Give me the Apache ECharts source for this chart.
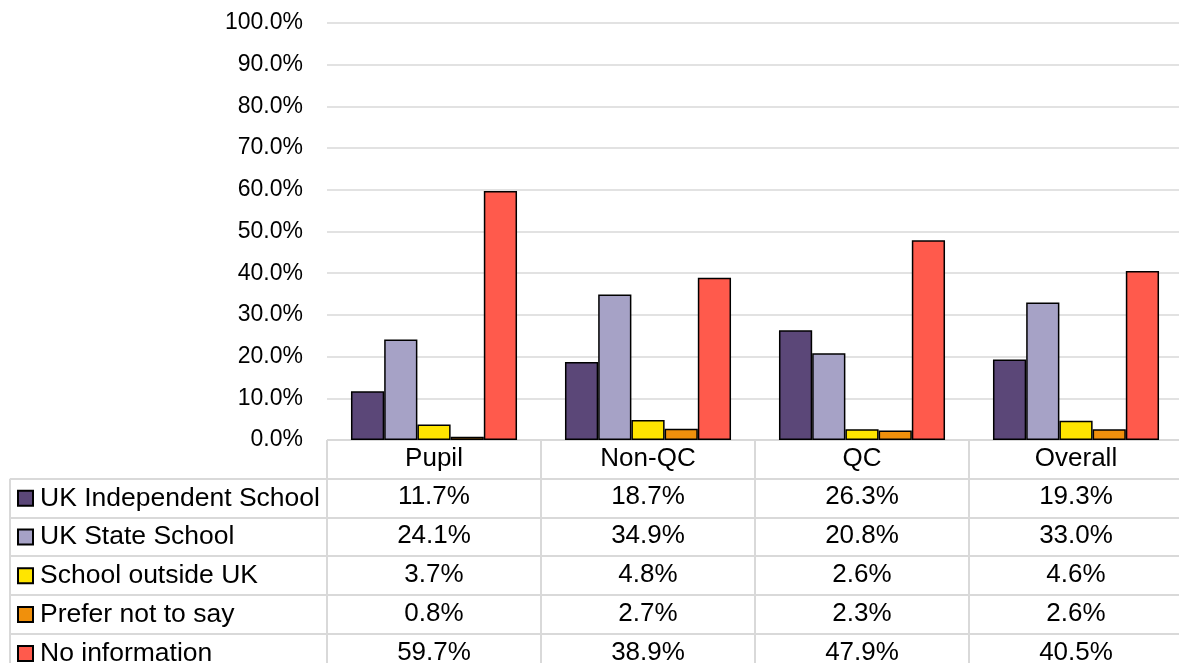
<!DOCTYPE html>
<html><head><meta charset="utf-8">
<script src="https://cdn.jsdelivr.net/npm/echarts@6/dist/echarts.min.js"></script>
<style>html,body{margin:0;padding:0;background:#fff}#c{width:1179px;height:663px}</style>
</head><body><div id="c"></div>
<script>
const categories = ['Pupil', 'Non-QC', 'QC', 'Overall'];
const seriesNames = ['UK Independent School', 'UK State School', 'School outside UK', 'Prefer not to say', 'No information'];
const ukIndependent = [11.7, 18.7, 26.3, 19.3];
const ukState = [24.1, 34.9, 20.8, 33.0];
const outsideUK = [3.7, 4.8, 2.6, 4.6];
const preferNot = [0.8, 2.7, 2.3, 2.6];
const noInfo = [59.7, 38.9, 47.9, 40.5];
const yTicks = {min: 0, max: 100, interval: 10};

const values = [ukIndependent, ukState, outsideUK, preferNot, noInfo];
const colors = ['#5B4778', '#A6A2C6', '#FFE500', '#F0900C', '#FF5A4C'];
const FONT = '"Liberation Sans", Arial, sans-serif';
const gridLeft = 327, gridTop = 23, axisY = 440, catW = 214, rowH = 38.8;
const lineColor = '#d9d9d9';

const chart = echarts.init(document.getElementById('c'));
const graphics = [];
const gx = (i) => gridLeft + i * catW;
for (let i = 0; i <= categories.length; i++) {
  graphics.push({type: 'line', shape: {x1: gx(i), y1: axisY, x2: gx(i), y2: 663}, style: {stroke: lineColor, lineWidth: 2}, silent: true});
}
graphics.push({type: 'line', shape: {x1: 10, y1: axisY + rowH, x2: 10, y2: 663}, style: {stroke: lineColor, lineWidth: 2}, silent: true});
graphics.push({type: 'line', shape: {x1: gridLeft, y1: axisY, x2: 1179, y2: axisY}, style: {stroke: lineColor, lineWidth: 2}, silent: true});
for (let r = 1; r <= seriesNames.length; r++) {
  const y = Math.round(axisY + r * rowH);
  graphics.push({type: 'line', shape: {x1: 10, y1: y, x2: 1179, y2: y}, style: {stroke: lineColor, lineWidth: 2}, silent: true});
}

const legLH = 28;
const option = {
  animation: false,
  textStyle: {fontFamily: FONT},
  grid: {left: gridLeft, top: gridTop, width: catW * categories.length, bottom: 663 - axisY,
         containLabel: false, outerBoundsMode: 'none'},
  legend: {
    orient: 'vertical', left: 17, top: axisY + rowH * 1.5 - legLH / 2, height: 260, padding: 0,
    itemWidth: 15, itemHeight: 15, itemGap: rowH - legLH, icon: 'rect',
    textStyle: {fontSize: 26.5, color: '#000', fontFamily: FONT, lineHeight: legLH, padding: [0, 0, 0, 2]},
    data: seriesNames
  },
  xAxis: {
    type: 'category', data: categories,
    axisLine: {show: false}, axisTick: {show: false},
    axisLabel: {
      margin: -1, interval: 0,
      formatter: (v, idx) => {
        const lines = ['{h|' + v + '}'];
        values.forEach(arr => lines.push('{v|' + arr[idx].toFixed(1) + '%}'));
        return lines.join('\n');
      },
      rich: {
        h: {fontSize: 26, lineHeight: rowH, color: '#000', fontFamily: FONT},
        v: {fontSize: 26, lineHeight: rowH, color: '#000', fontFamily: FONT}
      }
    }
  },
  yAxis: {
    type: 'value', min: yTicks.min, max: yTicks.max, interval: yTicks.interval,
    axisLine: {show: false}, axisTick: {show: false},
    axisLabel: {margin: 24, fontSize: 23, color: '#000', fontFamily: FONT, formatter: v => v.toFixed(1) + '%'},
    splitLine: {lineStyle: {color: lineColor, width: 1.5}}
  },
  series: seriesNames.map((name, i) => ({
    name, type: 'bar', data: values[i],
    barGap: '0%', barCategoryGap: '22.4%',
    itemStyle: {color: colors[i], borderColor: '#000', borderWidth: 1.5}
  })),
  graphic: graphics
};
chart.setOption(option);
</script></body></html>
